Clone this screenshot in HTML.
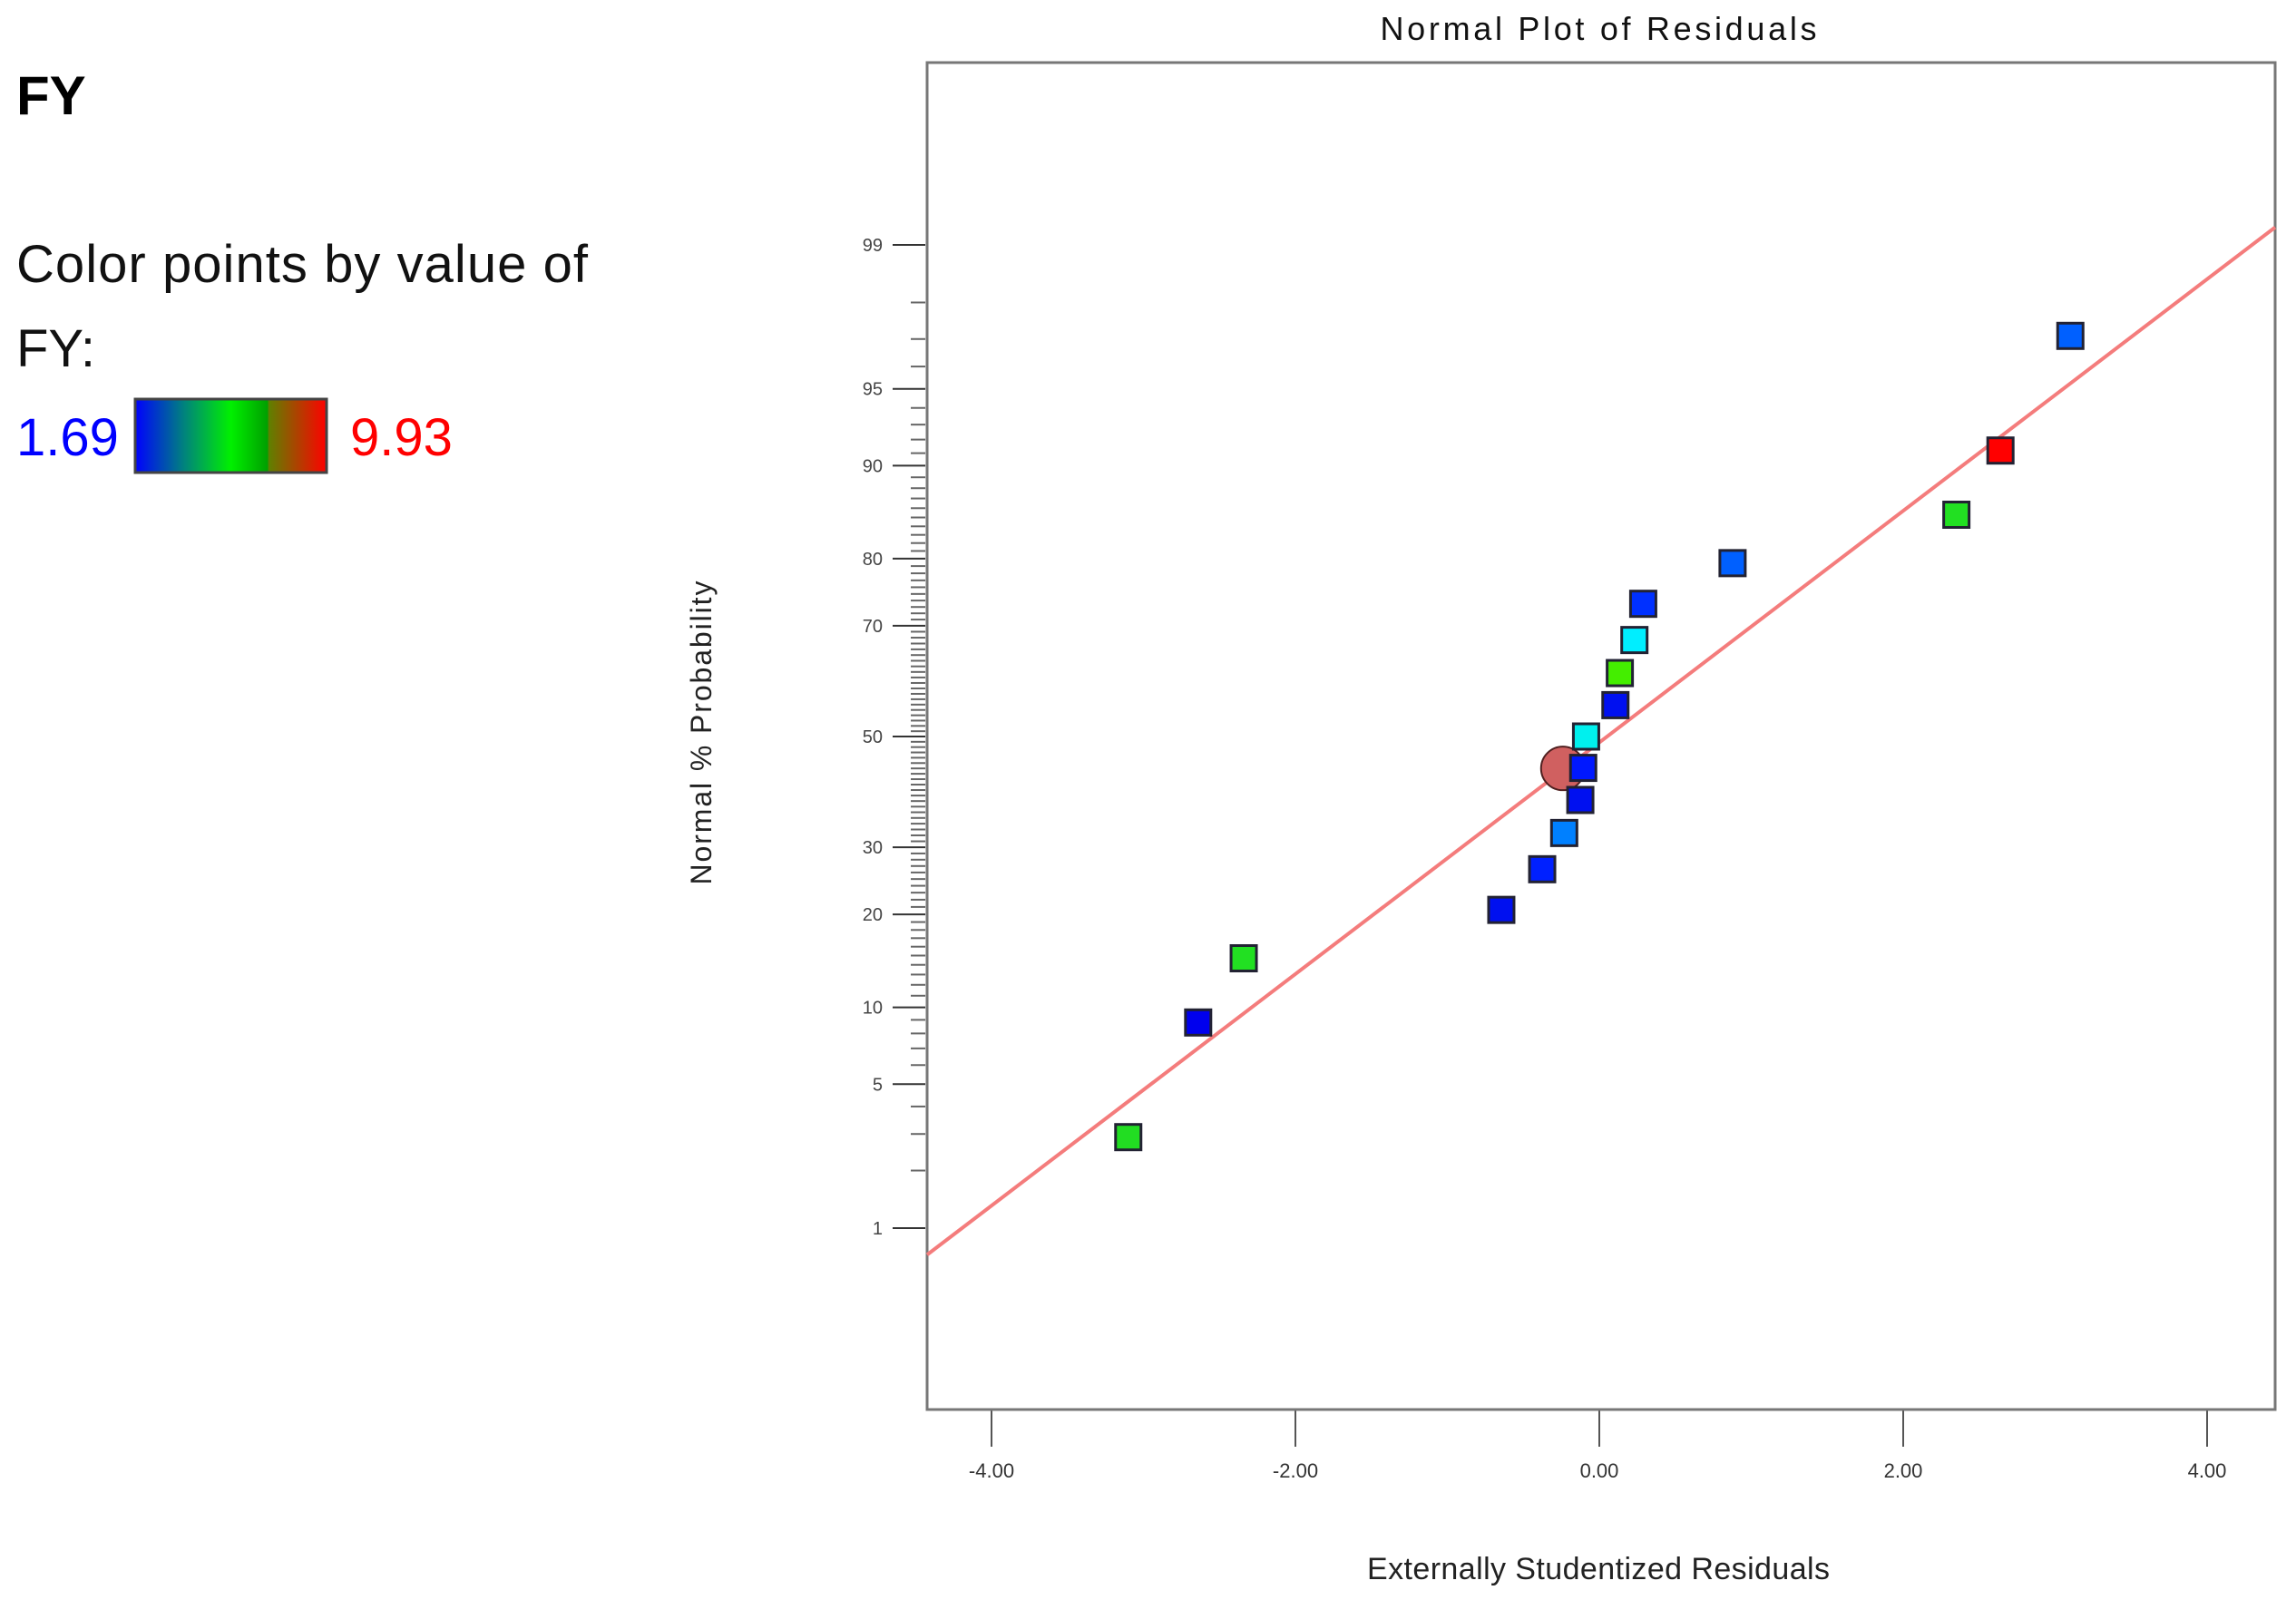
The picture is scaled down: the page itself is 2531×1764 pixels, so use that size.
<!DOCTYPE html>
<html><head><meta charset="utf-8"><style>
html,body{margin:0;padding:0;background:#fff;}
svg{display:block;font-family:"Liberation Sans",sans-serif;}
</style></head><body>
<svg id="chart" width="2531" height="1764" viewBox="0 0 2531 1764" xmlns="http://www.w3.org/2000/svg">
<defs>
<linearGradient id="cg" x1="0" x2="1" y1="0" y2="0">
<stop offset="0" stop-color="#0000ff"/>
<stop offset="0.25" stop-color="#008080"/>
<stop offset="0.5" stop-color="#00f000"/>
<stop offset="0.69" stop-color="#00a000"/>
<stop offset="0.7" stop-color="#608000"/>
<stop offset="1" stop-color="#ff0000"/>
</linearGradient>
</defs>
<text x="18" y="126" font-size="60" font-weight="bold" fill="#000">FY</text>
<text x="18" y="311" font-size="58" fill="#111" textLength="630">Color points by value of</text>
<text x="18" y="404" font-size="58" fill="#111">FY:</text>
<text x="18" y="502" font-size="58" fill="#0000ff">1.69</text>
<rect x="149" y="440" width="211" height="81" fill="url(#cg)" stroke="#444" stroke-width="3"/>
<text x="386" y="502" font-size="58" fill="#ff0000">9.93</text>
<text x="1762" y="44" font-size="36" text-anchor="middle" fill="#111" textLength="481">Normal Plot of Residuals</text>
<text transform="translate(784,808) rotate(-90)" font-size="32" text-anchor="middle" fill="#222" textLength="335">Normal % Probability</text>
<text x="1762" y="1741" font-size="34" text-anchor="middle" fill="#222" textLength="510">Externally Studentized Residuals</text>
<g id="yticks"></g><g id="xticks"></g>
<rect x="1022" y="69" width="1486" height="1485" fill="none" stroke="#777" stroke-width="3"/>
<g id="marks"></g>
</svg>
<script>
const yTickLabels=[1,5,10,20,30,50,70,80,90,95,99];
const xTickLabels=[-4,-2,0,2,4];
const residuals=[-3.10,-2.64,-2.34,-0.645,-0.376,-0.231,-0.125,-0.106,-0.087,0.106,0.135,0.231,0.289,0.877,2.35,2.64,3.10];
const probabilities=[2.9,8.8,14.7,20.6,26.5,32.4,38.2,44.1,50,55.9,61.8,67.6,73.5,79.4,85.3,91.2,97.1];
const pointColors=["#22dd22","#0000ee","#22e022","#0010f0","#0020ff","#0080ff","#0010f0","#0018ff","#00f0ee","#0010f0","#44ee00","#00eeff","#0030ff","#0060ff","#22e022","#ff0000","#0060ff"];
const highlightResidual=[-0.24];
const highlightProb=[44];
const fitSlope=[0.548];
const fitIntercept=[-0.028];
const NS="http://www.w3.org/2000/svg";
const L=1022,R=2508,T=69,B=1554;
function xs(v){return 1763+v*167.5;}
function zOf(p){p=p/100;const a=[-39.6968302866538,220.946098424521,-275.928510446969,138.357751867269,-30.6647980661472,2.50662827745924],b=[-54.4760987982241,161.585836858041,-155.698979859887,66.8013118877197,-13.2806815528857],c=[-7.78489400243029e-03,-0.322396458041136,-2.40075827716184,-2.54973253934373,4.37466414146497,2.93816398269878],d=[7.78469570904146e-03,0.32246712907004,2.445134137143,3.75440866190742];let q,r;
if(p<0.02425){q=Math.sqrt(-2*Math.log(p));return(((((c[0]*q+c[1])*q+c[2])*q+c[3])*q+c[4])*q+c[5])/((((d[0]*q+d[1])*q+d[2])*q+d[3])*q+1);}
if(p>1-0.02425){q=Math.sqrt(-2*Math.log(1-p));return-(((((c[0]*q+c[1])*q+c[2])*q+c[3])*q+c[4])*q+c[5])/((((d[0]*q+d[1])*q+d[2])*q+d[3])*q+1);}
q=p-0.5;r=q*q;return(((((a[0]*r+a[1])*r+a[2])*r+a[3])*r+a[4])*r+a[5])*q/(((((b[0]*r+b[1])*r+b[2])*r+b[3])*r+b[4])*r+1);}
function yz(z){return 812-233*z;}
function ys(p){return yz(zOf(p));}
function mk(tag,attrs,parent){const e=document.createElementNS(NS,tag);for(const k in attrs)e.setAttribute(k,attrs[k]);parent.appendChild(e);return e;}
const yt=document.getElementById('yticks');
for(let p=1;p<=99;p++){const y=ys(p);const major=yTickLabels.includes(p);
const t=mk('line',{x1:major?984:1004,x2:1020,y1:y,y2:y,stroke:major?'#333':'#666','stroke-width':2},yt);

}
yTickLabels.forEach(p=>{const t=mk('text',{x:973,y:ys(p)+7,'font-size':20,'text-anchor':'end',fill:'#444'},yt);t.textContent=p;

});
const xt=document.getElementById('xticks');
xTickLabels.forEach(v=>{const x=xs(v);const l=mk('line',{x1:x,x2:x,y1:B,y2:1595,stroke:'#555','stroke-width':2},xt);


const t=mk('text',{x:x,y:1629,'font-size':22,'text-anchor':'middle',fill:'#333'},xt);t.textContent=v.toFixed(2);

});
const g=document.getElementById('marks');
const xa=(L-1763)/167.5,xb=(R-1763)/167.5;
const fl=mk('line',{x1:L,x2:R,y1:yz(fitSlope[0]*xa+fitIntercept[0]),y2:yz(fitSlope[0]*xb+fitIntercept[0]),stroke:'#f47c7c','stroke-width':4},g);


const hc=mk('circle',{cx:xs(highlightResidual[0]),cy:ys(highlightProb[0]),r:24,fill:'#d06060',stroke:'#502020','stroke-width':2},g);


residuals.forEach((v,i)=>{const s=mk('rect',{x:xs(v)-14,y:ys(probabilities[i])-14,width:28,height:28,fill:pointColors[i],stroke:'#223',"stroke-width":3},g);

});
</script>
</body></html>
